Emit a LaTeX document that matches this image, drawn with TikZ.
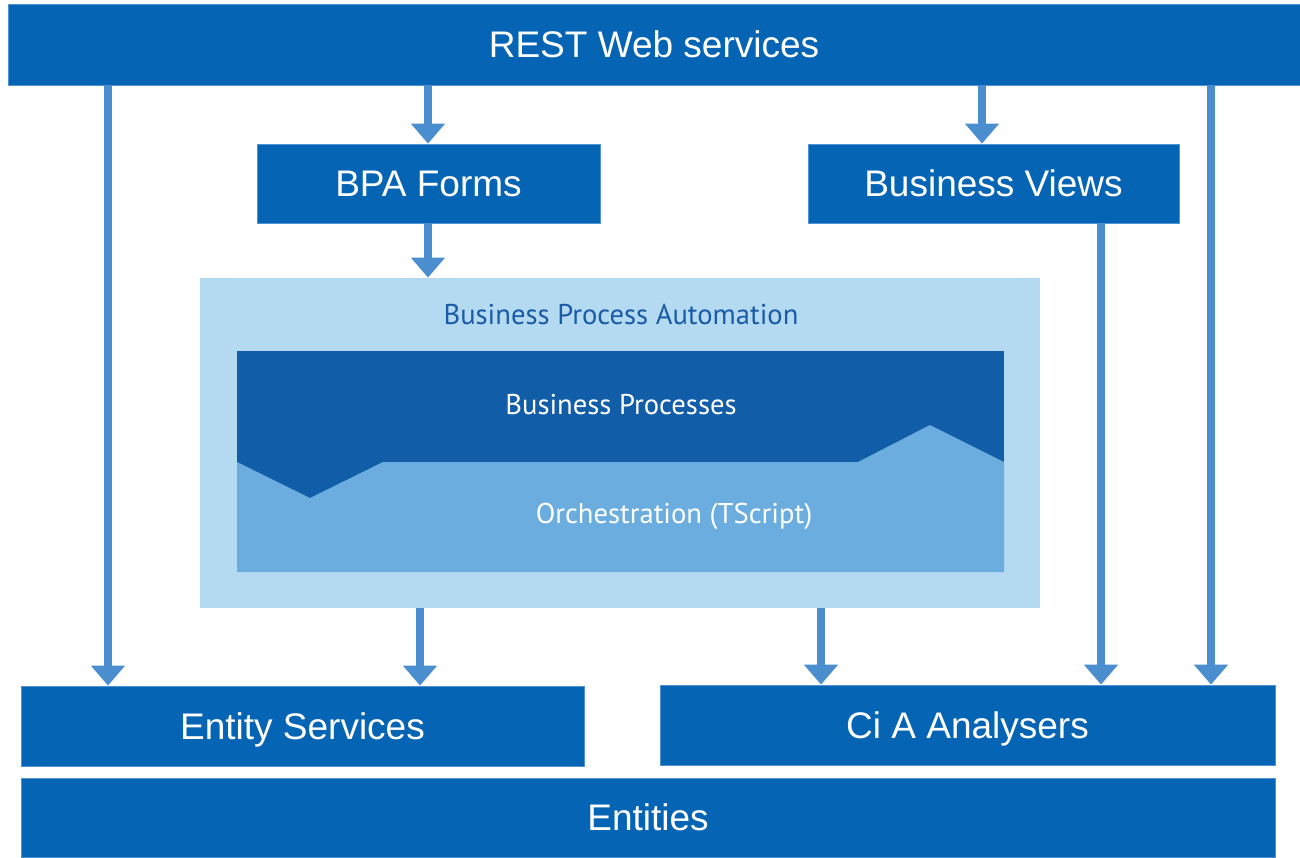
\documentclass[tikz,border=0pt]{standalone}
\usepackage{fontspec}
\setmainfont{Liberation Sans}
\newfontfamily\condfont{PT Sans}
\usetikzlibrary{arrows.meta}
\definecolor{boxblue}{HTML}{0565B4}
\definecolor{boxedge}{HTML}{4F93D2}
\definecolor{arrowblue}{HTML}{4A8ECF}
\definecolor{bpalight}{HTML}{B4DAF2}
\definecolor{bpdark}{HTML}{125DA8}
\definecolor{orchlight}{HTML}{6BADDE}
\definecolor{titleblue}{HTML}{1A5BA6}
\begin{document}
\begin{tikzpicture}[x=0.5pt,y=-0.5pt,
  box/.style={fill=boxblue,draw=boxedge,line width=0.4pt,inner sep=0pt,text=white,
    text height=13.2pt,text depth=0pt,
    font=\fontsize{18.5pt}{22pt}\selectfont},
  arr/.style={draw=arrowblue,line width=3.6pt,-{Triangle[width=16.5pt,length=10pt]},arrowblue},
  cond/.style={font=\condfont\fontsize{14.3pt}{16pt}\selectfont,inner sep=0pt}]
\useasboundingbox (0,0) rectangle (1300,857);
% boxes (width/height in pt = px/2)
\node[box,minimum width=646pt,minimum height=40.5pt] (rest) at (654,44.5) {REST Web services};
\node[box,minimum width=171.5pt,minimum height=39.5pt] (forms) at (428.5,183.5) {BPA Forms};
\node[box,minimum width=185.5pt,minimum height=39.5pt] (views) at (993.5,183.5) {Business Views};
\node[box,minimum width=281.5pt,minimum height=40pt] (es) at (302.5,726) {Entity Services};
\node[box,minimum width=307.5pt,minimum height=40pt] (cia) at (967.5,725) {Ci A Analysers};
\node[box,minimum width=627pt,minimum height=39.5pt] (ent) at (648,817.5) {Entities};
% BPA container
\node[fill=bpalight,draw=none,inner sep=0pt,minimum width=420pt,minimum height=165pt] (bpa) at (620,443) {};
\fill[bpdark] (237,351) rectangle (1004,572);
\fill[orchlight] (237,462) -- (310,498) -- (383,462) -- (858,462) -- (930,425) -- (1004,462) -- (1004,572) -- (237,572) -- cycle;
\node[cond,text=titleblue] (bpatitle) at (621,314) {Business Process Automation};
\node[cond,text=white] (bp) at (621,405) {Business Processes};
\node[cond,text=white] (orch) at (674,516) {Orchestration (TScript)};
% arrows
\draw[arr] (rest.south -| 108,0) -- (es.north -| 108,0);
\draw[arr] (rest.south -| 428,0) -- (forms.north -| 428,0);
\draw[arr] (rest.south -| 982,0) -- (views.north -| 982,0);
\draw[arr] (rest.south -| 1211,0) -- (cia.north -| 1211,0);
\draw[arr] (forms.south -| 428,0) -- (bpa.north -| 428,0);
\draw[arr] (bpa.south -| 420,0) -- (es.north -| 420,0);
\draw[arr] (bpa.south -| 821,0) -- (cia.north -| 821,0);
\draw[arr] (views.south -| 1101,0) -- (cia.north -| 1101,0);
\end{tikzpicture}
\end{document}
